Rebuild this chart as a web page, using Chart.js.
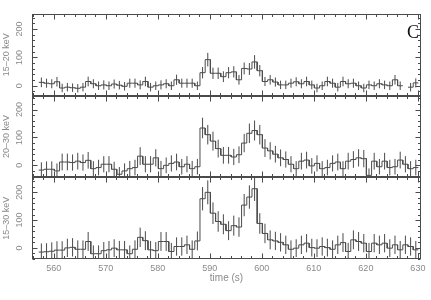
<!DOCTYPE html>
<html>
<head>
<meta charset="utf-8">
<script src="https://cdn.jsdelivr.net/npm/chart.js@4"></script>
<style>
  html, body { margin: 0; padding: 0; background: #fff; }
  #box { width: 431px; height: 300px; }
</style>
</head>
<body>
<div id="box"><canvas id="lc" width="431" height="300"></canvas></div>
<script>
// light curve in three bands, 1 s bins
var binStart = 557.1;
var binWidth = 1.0;
var timeTicks = [560, 570, 580, 590, 600, 610, 620, 630];
var rateTicks = [0, 100, 200];
var bandNames = ['15–20 keV', '20–30 keV', '15–30 keV'];
var panelTag = 'C';
var timeTitle = 'time (s)';

var rate1 = [12, 9, 7, 14, -8, -5, -7, -9, -5, 15, 7, 0, 3, 0, 6, 2, -2, 9, 9, 3, 15, -5, 0, 3, 7, 0, 21, 9, 9, 9, 0,
    46, 92, 44, 44, 32, 46, 49, 21, 61, 59, 84, 53,
    15, 21, 13, 3, 3, 9, 14, 7, 15, 3, -8, 0, 15, 9, -5, 15, 7, 9, 0, -8, 3, 0, 7, 3, 0, 21, 0, null, -5, 10];
var err1 = [17, 16, 16, 17, 15, 15, 15, 15, 15, 17, 16, 15, 16, 15, 16, 15, 15, 16, 16, 16, 17, 15, 15, 16, 16, 15, 18, 16, 16, 16, 15,
    20, 24, 20, 20, 19, 20, 20, 17, 21, 21, 24, 20,
    16, 17, 16, 15, 15, 16, 16, 16, 17, 15, 15, 15, 17, 16, 15, 17, 16, 16, 15, 15, 15, 15, 16, 15, 15, 17, 15, 0, 15, 16];

var rate2 = [-17, -14, -14, -20, 12, 12, 10, 15, 10, 18, -12, -8, 4, 4, -14, -32, -20, -12, -8, 33, 4, 4, 27, -12, 0, 7, 12, -5, 4, -12, -5,
    134, 110, 87, 60, 36, 36, 30, 38, 80, 115, 125, 110,
    62, 52, 40, 27, 21, 4, -12, 15, 19, -2, 7, -12, -8, 7, 12, -12, 15, 21, 27, 24, -36, 15, -5, 15, -8, -5, 19, 4, -12, -8];
var err2 = [28, 28, 28, 27, 30, 30, 29, 30, 29, 30, 27, 28, 29, 29, 27, 26, 27, 28, 28, 32, 29, 29, 31, 28, 28, 29, 30, 28, 29, 28, 28,
    37, 35, 34, 32, 30, 30, 29, 30, 33, 35, 36, 35,
    32, 31, 30, 30, 29, 29, 27, 30, 30, 28, 29, 27, 28, 29, 30, 27, 30, 30, 31, 31, 25, 30, 28, 30, 28, 28, 30, 29, 27, 28];

var rate3 = [-15, -14, -12, -8, -8, 0, 2, -5, -5, 23, -21, -21, -10, -7, -1, -7, -7, -21, -5, 38, 26, -7, -10, 23, 23, -13, 5, 5, 11, -5, 25,
    177, 200, 125, 95, 85, 62, 80, 75, 154, 183, 213, 88,
    52, 29, 25, 20, 11, -5, -1, 11, 17, 1, -1, 5, 1, -5, 11, 19, -13, 29, 23, 17, -13, 17, 11, 17, -1, 11, -7, 11, 5, -7];
var err3 = [31, 31, 32, 32, 32, 33, 33, 32, 32, 34, 30, 30, 31, 32, 32, 32, 32, 30, 32, 35, 34, 32, 31, 34, 34, 31, 33, 33, 33, 32, 34,
    42, 43, 39, 37, 36, 34, 36, 35, 40, 42, 44, 37,
    35, 34, 33, 33, 33, 32, 32, 33, 33, 32, 32, 33, 32, 32, 33, 34, 31, 34, 34, 33, 31, 33, 33, 33, 32, 33, 32, 33, 33, 32];

var ink = '#4a4a4a';
var labelGrey = '#8a8a8a';
var fontFam = '"Liberation Sans", Arial, sans-serif';

function stepPoints(vals) {
    var pts = [];
    vals.forEach(function (v, i) {
        var t = binStart + i * binWidth;
        if (v === null) { pts.push({ x: t, y: null }); return; }
        pts.push({ x: t, y: v }, { x: t + binWidth, y: v });
    });
    return pts;
}

function errPoints(vals, errs) {
    var pts = [];
    vals.forEach(function (v, i) {
        if (v === null) return;
        var t = binStart + (i + 0.5) * binWidth;
        pts.push({ x: t, y: v - errs[i] }, { x: t, y: v + errs[i] }, { x: t, y: null });
    });
    return pts;
}

function lineSet(data, axis) {
    return {
        data: data, yAxisID: axis, borderColor: ink, borderWidth: 1,
        pointRadius: 0, fill: false, tension: 0, spanGaps: false
    };
}

function yScale(title, min, max) {
    return {
        type: 'linear', position: 'left', stack: 'bands', stackWeight: 1,
        min: min, max: max,
        grid: { display: false, drawTicks: false, tickLength: 0 }, border: { display: false },
        ticks: { display: false },
        afterBuildTicks: function (s) { s.ticks = rateTicks.map(function (v) { return { value: v }; }); },
        afterFit: function (s) { s.width = 32; },
        title: { display: true, text: title, color: labelGrey, font: { size: 9, family: fontFam }, padding: { top: 1, bottom: 0 } }
    };
}

// frames, inward ticks, rotated rate labels and the panel tag
var framePlugin = {
    id: 'frames',
    afterDatasetsDraw: function (chart) {
        var ctx = chart.ctx;
        var xs = chart.scales.x;
        ctx.save();
        ctx.strokeStyle = ink;
        ctx.lineWidth = 1;
        ['y1', 'y2', 'y3'].forEach(function (id) {
            var s = chart.scales[id];
            var L = Math.round(xs.left) + 0.5, R = Math.round(xs.right) - 0.5;
            var T = Math.round(s.top) + 0.5, B = Math.round(s.bottom) - 0.5;
            ctx.strokeRect(L, T, R - L, B - T);
            ctx.beginPath();
            for (var v = Math.ceil(s.min / 20) * 20; v <= s.max; v += 20) {
                var y = Math.round(s.getPixelForValue(v)) + 0.5;
                var len = (v % 100 === 0) ? 5 : 2.5;
                ctx.moveTo(L, y); ctx.lineTo(L + len, y);
                ctx.moveTo(R, y); ctx.lineTo(R - len, y);
            }
            for (var t = Math.ceil(xs.min / 2) * 2; t <= xs.max; t += 2) {
                var x = Math.round(xs.getPixelForValue(t)) + 0.5;
                var tl = (t % 10 === 0) ? 5 : 2.5;
                ctx.moveTo(x, T); ctx.lineTo(x, T + tl);
                ctx.moveTo(x, B); ctx.lineTo(x, B - tl);
            }
            ctx.stroke();
            ctx.fillStyle = labelGrey;
            ctx.font = '9px ' + fontFam;
            ctx.textAlign = 'center';
            ctx.textBaseline = 'middle';
            rateTicks.forEach(function (v) {
                ctx.save();
                ctx.translate(20, s.getPixelForValue(v));
                ctx.rotate(-Math.PI / 2);
                ctx.fillText(String(v), 0, 0);
                ctx.restore();
            });
        });
        ctx.fillStyle = '#111';
        ctx.font = '18px "Liberation Serif", serif';
        ctx.textAlign = 'right';
        ctx.textBaseline = 'alphabetic';
        ctx.fillText(panelTag, xs.right - 2, chart.scales.y1.top + 24);
        ctx.restore();
    }
};

var chart = new Chart(document.getElementById('lc'), {
    type: 'line',
    data: {
        datasets: [
            lineSet(stepPoints(rate3), 'y3'), lineSet(errPoints(rate3, err3), 'y3'),
            lineSet(stepPoints(rate2), 'y2'), lineSet(errPoints(rate2, err2), 'y2'),
            lineSet(stepPoints(rate1), 'y1'), lineSet(errPoints(rate1, err1), 'y1')
        ]
    },
    options: {
        responsive: false,
        animation: false,
        devicePixelRatio: 1,
        layout: { padding: { top: 14, right: 10, left: 0, bottom: 0 } },
        plugins: { legend: { display: false }, tooltip: { enabled: false } },
        scales: {
            x: {
                type: 'linear', min: 555.8, max: 630.6,
                grid: { display: false, drawTicks: false, tickLength: 0 }, border: { display: false },
                afterBuildTicks: function (s) { s.ticks = timeTicks.map(function (v) { return { value: v }; }); },
                afterFit: function (s) { s.height = 41; },
                ticks: { color: labelGrey, padding: 4, maxRotation: 0, font: { size: 9, family: fontFam } },
                title: { display: true, text: timeTitle, color: labelGrey, font: { size: 10, family: fontFam }, padding: { top: 0, bottom: 16 } }
            },
            y3: yScale(bandNames[2], -40, 254),
            y2: yScale(bandNames[1], -43, 250),
            y1: yScale(bandNames[0], -35, 253)
        }
    },
    plugins: [framePlugin]
});
</script>
</body>
</html>
